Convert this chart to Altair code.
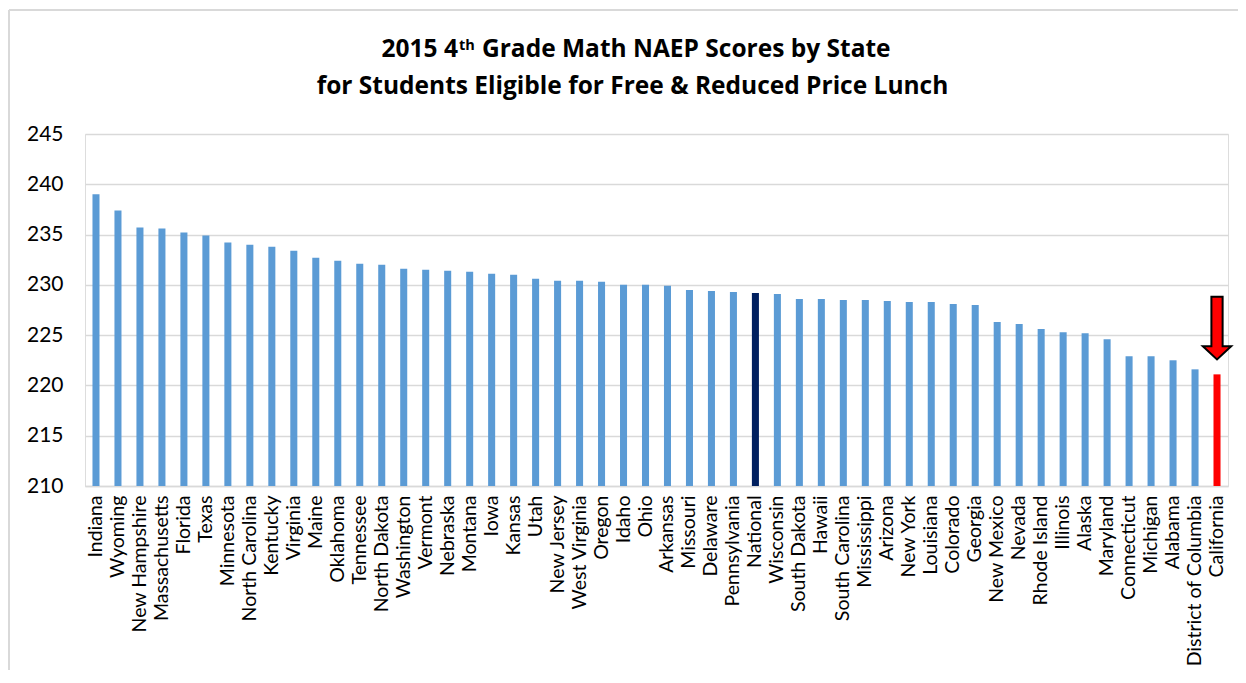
import altair as alt
import pandas as pd

states = ["Indiana", "Wyoming", "New Hampshire", "Massachusetts", "Florida", "Texas",
          "Minnesota", "North Carolina", "Kentucky", "Virginia", "Maine", "Oklahoma",
          "Tennessee", "North Dakota", "Washington", "Vermont", "Nebraska", "Montana",
          "Iowa", "Kansas", "Utah", "New Jersey", "West Virginia", "Oregon", "Idaho",
          "Ohio", "Arkansas", "Missouri", "Delaware", "Pennsylvania", "National",
          "Wisconsin", "South Dakota", "Hawaii", "South Carolina", "Mississippi",
          "Arizona", "New York", "Louisiana", "Colorado", "Georgia", "New Mexico",
          "Nevada", "Rhode Island", "Illinois", "Alaska", "Maryland", "Connecticut",
          "Michigan", "Alabama", "District of Columbia", "California"]
scores = [239.0, 237.4, 235.7, 235.6, 235.2, 234.9,
          234.2, 234.0, 233.8, 233.4, 232.7, 232.4,
          232.1, 232.0, 231.6, 231.5, 231.4, 231.3,
          231.1, 231.0, 230.6, 230.4, 230.4, 230.3, 230.0,
          230.0, 229.9, 229.5, 229.4, 229.3, 229.2,
          229.1, 228.6, 228.6, 228.5, 228.5,
          228.4, 228.3, 228.3, 228.1, 228.0, 226.3,
          226.1, 225.6, 225.3, 225.2, 224.6, 222.9,
          222.9, 222.5, 221.6, 221.1]
groups = ["state"] * 30 + ["national"] + ["state"] * 20 + ["highlight"]
y_ticks = [210, 215, 220, 225, 230, 235, 240, 245]

arrow_state = ["California"]
arrow_center = [225.7]

title_line1_a = "2015 4"
title_line1_sup = "th"
title_line1_b = "Grade Math NAEP Scores by State"
title_line2 = "for Students Eligible for Free & Reduced Price Lunch"

df = pd.DataFrame({"state": states, "score": scores, "group": groups})
arrow_df = pd.DataFrame({"state": arrow_state, "y": arrow_center})

W, H = 1143, 352
FONT = "Lato"
TFONT = "Open Sans"
TSIZE = 24.5

x_enc = alt.X("state:N", sort=states, title=None,
              scale=alt.Scale(paddingInner=0.68, paddingOuter=0.34),
              axis=alt.Axis(labelAngle=270, labelFontSize=19.5, labelFont=FONT,
                            labelColor="black", ticks=False, domainColor="#d9d9d9",
                            domainWidth=1.5, labelPadding=9, labelLimit=300))

bars = alt.Chart(df).mark_bar().encode(
    x=x_enc,
    y=alt.Y("score:Q", title=None,
            scale=alt.Scale(domain=[210, 245], nice=False, zero=False),
            axis=alt.Axis(values=y_ticks, labelFontSize=21, labelFont=FONT,
                          labelColor="black", ticks=False, domain=False,
                          gridColor="#d9d9d9", gridWidth=1.5, labelPadding=22)),
    y2=alt.datum(210),
    color=alt.Color("group:N", legend=None,
                    scale=alt.Scale(domain=["state", "national", "highlight"],
                                    range=["#5b9bd5", "#002060", "#ff0000"])),
)

arrow_path = ("M -0.17 -0.95 L 0.17 -0.95 L 0.17 0.55 L 0.43 0.55 L 0 0.95 "
              "L -0.43 0.55 L -0.17 0.55 Z")
arrow = alt.Chart(arrow_df).mark_point(
    shape=arrow_path, size=4356, filled=True, fill="#ff0000", stroke="black",
    strokeWidth=2, opacity=1, strokeJoin="miter"
).encode(x=alt.X("state:N", sort=states), y=alt.Y("y:Q"))

one = pd.DataFrame({"k": [0]})
t1a = alt.Chart(one).mark_text(text=title_line1_a, font=TFONT, fontWeight="bold",
                               fontSize=TSIZE, align="right", baseline="alphabetic",
                               color="black").encode(x=alt.value(373), y=alt.value(-77))
t1s = alt.Chart(one).mark_text(text=title_line1_sup, font=TFONT, fontWeight="bold",
                               fontSize=14.5, align="left", baseline="alphabetic",
                               color="black").encode(x=alt.value(374), y=alt.value(-84))
t1b = alt.Chart(one).mark_text(text=title_line1_b, font=TFONT, fontWeight="bold",
                               fontSize=TSIZE, align="left", baseline="alphabetic",
                               color="black").encode(x=alt.value(397), y=alt.value(-77))
t2 = alt.Chart(one).mark_text(text=title_line2, font=TFONT, fontWeight="bold",
                              fontSize=TSIZE, align="center", baseline="alphabetic",
                              color="black").encode(x=alt.value(547.5), y=alt.value(-40.5))

border_top = alt.Chart(one).mark_rule(color="#d9d9d9", strokeWidth=2).encode(
    x=alt.value(-76), x2=alt.value(W + 12), y=alt.value(-124))
border_left = alt.Chart(one).mark_rule(color="#d9d9d9", strokeWidth=2).encode(
    x=alt.value(-76), y=alt.value(-124), y2=alt.value(H + 190))

chart = alt.layer(bars, arrow, t1a, t1s, t1b, t2, border_top, border_left).properties(
    width=W, height=H,
    autosize=alt.AutoSizeParams(type="none"),
    padding={"left": 77, "top": 126, "right": 10, "bottom": 184},
).configure_view(stroke=None).configure(background="white")

chart.save("out.html", embed_options={"renderer": "svg", "actions": False})
